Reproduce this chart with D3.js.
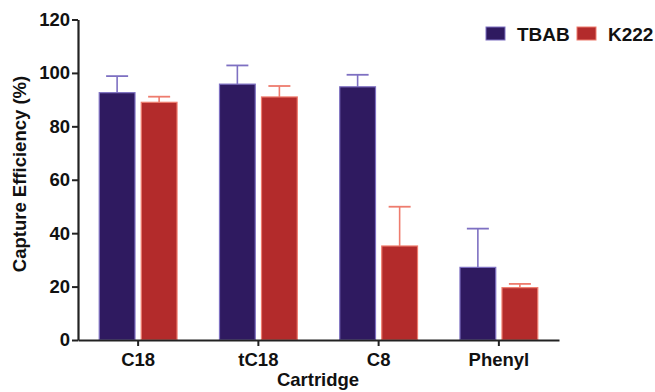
<!DOCTYPE html>
<html>
<head>
<meta charset="utf-8">
<script src="https://cdn.jsdelivr.net/npm/d3@7"></script>
<style>
  html, body { margin: 0; padding: 0; background: #fff; }
  svg { display: block; }
  text { font-family: "Liberation Sans", Arial, Helvetica, sans-serif; font-weight: bold; fill: #111; }
</style>
</head>
<body>
<svg id="chart" width="655" height="392"></svg>
<script>
// Capture efficiency per cartridge type, mean and upper error (SD)
const categories = ["C18", "tC18", "C8", "Phenyl"];
const seriesNames = ["TBAB", "K222"];
const tbabMean = [92.6, 95.8, 94.8, 27.2];
const tbabErr  = [6.2, 7.0, 4.5, 14.5];
const k222Mean = [89.0, 91.0, 35.2, 19.6];
const k222Err  = [2.1, 4.1, 14.7, 1.4];
const yTicks = [0, 20, 40, 60, 80, 100, 120];

const fills   = { TBAB: "#2f1a60", K222: "#b32b2b" };
const strokes = { TBAB: "#7e70c2", K222: "#ee7c6e" };

const rows = categories.map((c, i) => ({
  cat: c,
  vals: [
    { s: "TBAB", v: tbabMean[i], e: tbabErr[i] },
    { s: "K222", v: k222Mean[i], e: k222Err[i] }
  ]
}));

const svg = d3.select("#chart");
const plotLeft = 78, plotRight = 559, plotTop = 19.5, plotBottom = 340;

const x0 = d3.scaleBand().domain(categories).range([plotLeft, plotRight]).padding(0);
const x1 = d3.scaleBand().domain(seriesNames).range([-39.5, 39.5]).paddingInner(0.12);
const y = d3.scaleLinear().domain([0, 120]).range([plotBottom, plotTop]);

const groups = svg.append("g").selectAll("g").data(rows).join("g")
  .attr("transform", d => `translate(${x0(d.cat) + x0.bandwidth() / 2},0)`);

// error bars (upper only), drawn under the bars
groups.selectAll("g.err").data(d => d.vals).join("g").attr("class", "err")
  .each(function (d) {
    const g = d3.select(this);
    const cx = x1(d.s) + x1.bandwidth() / 2;
    g.append("line")
      .attr("x1", cx).attr("x2", cx)
      .attr("y1", y(d.v)).attr("y2", y(d.v + d.e))
      .attr("stroke", strokes[d.s]).attr("stroke-width", 1.6);
    g.append("line")
      .attr("x1", cx - 11).attr("x2", cx + 11)
      .attr("y1", y(d.v + d.e)).attr("y2", y(d.v + d.e))
      .attr("stroke", strokes[d.s]).attr("stroke-width", 1.8);
  });

groups.selectAll("rect").data(d => d.vals).join("rect")
  .attr("x", d => x1(d.s) + 0.6)
  .attr("width", x1.bandwidth() - 1.2)
  .attr("y", d => y(d.v))
  .attr("height", d => y(0) - y(d.v))
  .attr("fill", d => fills[d.s])
  .attr("stroke", d => strokes[d.s])
  .attr("stroke-width", 1.2);

// axes
const yAxis = svg.append("g").attr("transform", `translate(${plotLeft},0)`)
  .call(d3.axisLeft(y).tickValues(yTicks).tickSize(6).tickSizeOuter(0).tickPadding(2));
const xAxis = svg.append("g").attr("transform", `translate(0,${plotBottom})`)
  .call(d3.axisBottom(x0).tickSize(6).tickSizeOuter(0).tickPadding(4));

[yAxis, xAxis].forEach(a => {
  a.select(".domain").attr("stroke", "#222").attr("stroke-width", 2.2);
  a.selectAll(".tick line").attr("stroke", "#222").attr("stroke-width", 2);
  a.selectAll(".tick text").attr("font-size", 18.5).attr("fill", "#111")
    .attr("font-family", "Liberation Sans, Arial, sans-serif").attr("font-weight", "bold");
});
xAxis.selectAll(".tick text").attr("dy", "0.85em");

// axis titles
svg.append("text")
  .attr("transform", `translate(26,174) rotate(-90)`)
  .attr("text-anchor", "middle")
  .attr("font-size", 18.5)
  .text("Capture Efficiency (%)");

svg.append("text")
  .attr("x", 318).attr("y", 386)
  .attr("text-anchor", "middle")
  .attr("font-size", 18.5)
  .text("Cartridge");

// legend
const legendX = [486, 577];
const legend = svg.append("g").selectAll("g").data(seriesNames).join("g")
  .attr("transform", (d, i) => `translate(${legendX[i]},27)`);
legend.append("rect")
  .attr("width", 19).attr("height", 13)
  .attr("fill", d => fills[d])
  .attr("stroke", d => strokes[d]).attr("stroke-width", 1);
legend.append("text")
  .attr("x", 31).attr("y", 13.5)
  .attr("font-size", 19)
  .text(d => d);
</script>
</body>
</html>
